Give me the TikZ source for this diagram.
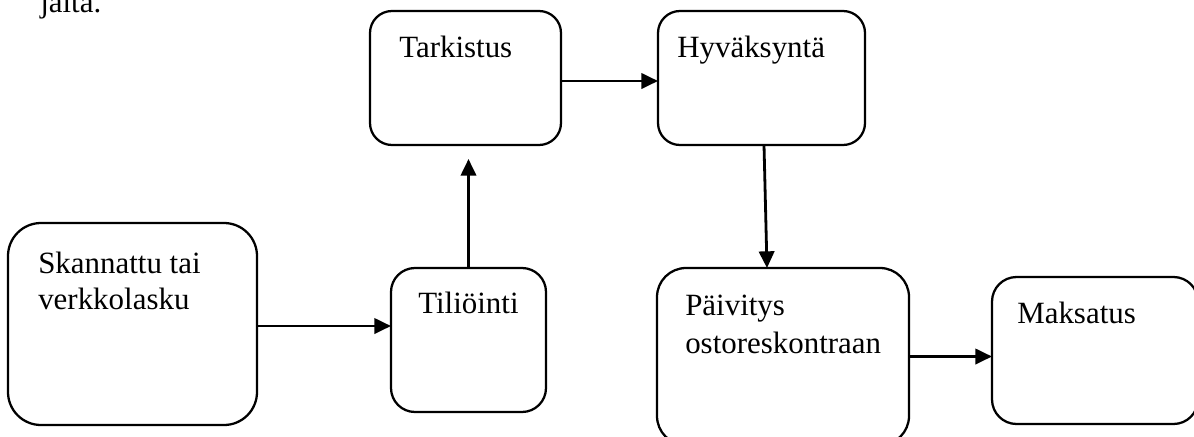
\documentclass[tikz,border=0pt]{standalone}
\usepackage{fontspec}
\setmainfont{Liberation Serif}
\usetikzlibrary{arrows.meta,calc}
\begin{document}
\begin{tikzpicture}[x=0.75pt,y=-0.75pt,
  box/.style={draw,line width=1.7pt,inner sep=0pt,outer sep=0pt},
  lbl/.style={anchor=base west,inner sep=0pt,font=\fontsize{23.2pt}{27pt}\selectfont},
  arr/.style={line width=2.1pt,-{Triangle[length=12.5pt,width=11.5pt]}}]
\useasboundingbox (0,0) rectangle (1194,436);
\clip (0,0) rectangle (1194,436);
% boxes
\node[box,rounded corners=24.75pt,minimum width=186.75pt,minimum height=151.5pt] (A) at (132.5,324) {};
\node[box,rounded corners=18pt,minimum width=116.25pt,minimum height=108pt] (B) at (468.5,340) {};
\node[box,rounded corners=16.5pt,minimum width=143.25pt,minimum height=100.5pt] (C) at (465.5,78) {};
\node[box,rounded corners=16.5pt,minimum width=155.25pt,minimum height=100.5pt] (D) at (761.5,78) {};
\node[box,rounded corners=21.75pt,minimum width=189pt,minimum height=132.75pt] (E) at (783,356.5) {};
\node[box,rounded corners=18.4pt,minimum width=154.5pt,minimum height=110.25pt] (F) at (1095,350.5) {};
% texts
\node[lbl] (t0) at (40,12) {jalta.};
\node[lbl] (tC) at (399,57) {Tarkistus};
\node[lbl] (tD) at (677,57) {Hyväksyntä};
\node[lbl] (tA1) at (38,273) {Skannattu tai};
\node[lbl] (tA2) at (38,309) {verkkolasku};
\node[lbl] (tB) at (418,313) {Tiliöinti};
\node[lbl] (tE1) at (685,315) {Päivitys};
\node[lbl] (tE2) at (685,353) {ostoreskontraan};
\node[lbl] (tF) at (1017,323) {Maksatus};
% connectors
\draw[arr] ($(A.east)+(0,2)$) -- ($(A.east -| B.west)+(0,2)$);
\draw[arr,shorten >=10.5pt] (B.north) -- (B.north |- C.south);
\draw[arr] ($(C.east)+(0,3)$) -- ($(C.east -| D.west)+(0,3)$);
\draw[arr] ($(D.south)+(2.5,0)$) -- ($(E.north)+(-16,0)$);
\draw[arr] (E.east) -- (E.east -| F.west);
\end{tikzpicture}
\end{document}
